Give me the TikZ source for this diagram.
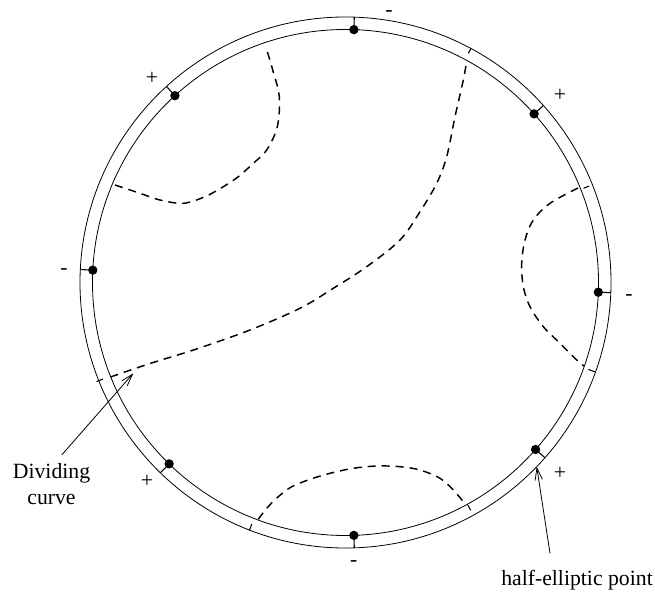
\documentclass[tikz,border=0pt]{standalone}
\usepackage{fontspec}
\setmainfont{Liberation Serif}
\usetikzlibrary{arrows.meta,calc}
\begin{document}
\begin{tikzpicture}[x=0.75pt,y=-0.75pt,
  ring/.style={line width=0.6pt},
  dcurve/.style={line width=1.1pt,dash pattern=on 6pt off 4.5pt},
  ringtick/.style={line width=0.8pt},
  dot/.style={circle,fill,inner sep=0pt,minimum size=7pt},
  sign/.style={inner sep=0pt,font=\fontsize{16.3}{19}\selectfont},
  lbl/.style={inner sep=0pt,font=\fontsize{16.3}{19.5}\selectfont,align=center},
  pointer/.style={line width=0.6pt,-{Straight Barb[length=9pt,width=5.5pt]}}]
\useasboundingbox (0,0) rectangle (655,591);
\coordinate (C) at (345.5,282.5);
\draw[ring] (C) circle[radius=265.5];
\draw[ring] (C) circle[radius=253];
% half-elliptic points with radial ticks
\foreach \a [count=\i] in {-88.1,-41.8,2.2,41.3,88.1,134.2,-177.2,-132.4}{
  \draw[ringtick] ($(C)+(\a:253)$) -- ($(C)+(\a:265.5)$);
  \node[dot] (d\i) at ($(C)+(\a:253)$) {};
}
% dividing curves
\draw[dcurve] plot[smooth,tension=0.55] coordinates {(115,185) (140,193.3) (160,200) (183.3,203.3) (205,196.7) (223.3,186.7) (238.3,176.7) (253.3,163.3) (266.7,150) (277.3,126.7) (279.3,96.7) (272.7,70) (266.5,49)};
\draw[dcurve] plot[smooth,tension=0.55] coordinates {(110.5,377) (150,363.5) (195,349.5) (250,330) (300,308.3) (333.3,288.3) (366.7,266.7) (400,240) (420,211.7) (436.7,183.3) (446.7,156.7) (455,116.7) (463.3,80) (466.7,61)};
\draw[dcurve] plot[smooth,tension=0.55] coordinates {(578,188) (550,203.3) (533.3,220) (525,240) (521.7,263.3) (523.3,286.7) (530,306.7) (543.3,326.7) (560,343.3) (576.7,360) (584,366)};
\draw[dcurve] plot[smooth,tension=0.55] coordinates {(258.3,519.3) (266.7,508.3) (278.3,496.7) (291.7,486.7) (310,479.3) (330,473.3) (353.3,468.3) (376.7,466) (400,466.7) (420,470) (440,478.3) (453.3,490) (463.3,501.7)};
% ticks of the curves in the ring
\foreach \a/\ra/\rb in {158.3/261/268, -61.8/260/265.5, -21.6/256/262, 19.7/258/265, 111.2/259/266, 61.2/254/260}{
  \draw[ringtick] ($(C)+(\a:\ra)$) -- ($(C)+(\a:\rb)$);
}
% signs
\node[sign] (s1) at (389,14) {-};
\node[sign] (s2) at (560,95.7) {+};
\node[sign] (s3) at (629,297.7) {-};
\node[sign] (s4) at (560,473) {+};
\node[sign] (s5) at (353.7,563.7) {-};
\node[sign] (s6) at (147,481.7) {+};
\node[sign] (s7) at (64,272) {-};
\node[sign] (s8) at (152,78.3) {+};
% labels
\node[lbl,anchor=north] (dl) at (51.5,463) {Dividing\\curve};
\coordinate (dtail) at (61.7,455);
\coordinate (dtip) at (133.3,373.3);
\draw[pointer] (dtail) -- (dtip);
\node[lbl,anchor=base] (hl) at (577,585) {half-elliptic point};
\coordinate (htail) at (550,553.3);
\coordinate (htip) at (536.7,466.7);
\draw[pointer] (htail) -- (htip);
\end{tikzpicture}
\end{document}
